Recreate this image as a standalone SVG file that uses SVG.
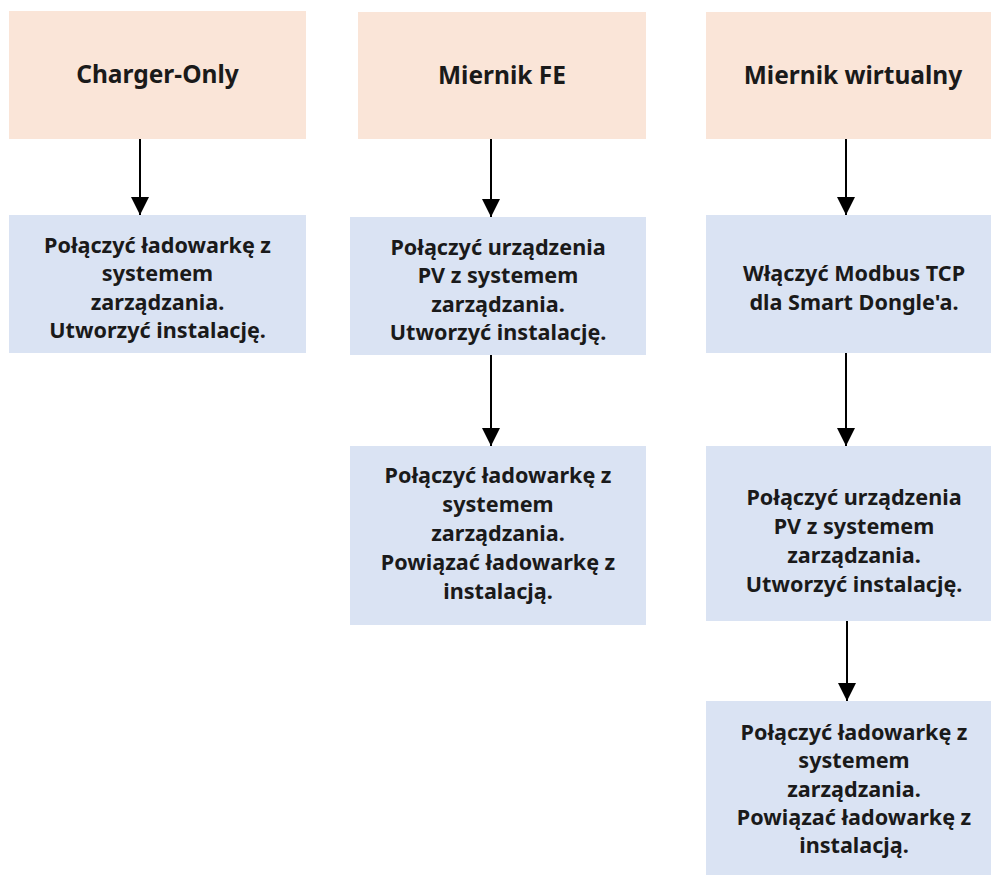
<svg xmlns="http://www.w3.org/2000/svg" width="991" height="875" viewBox="0 0 991 875">
  <defs>
    <marker id="arrow" viewBox="0 0 18 18" refX="18" refY="9" markerWidth="18" markerHeight="18" markerUnits="userSpaceOnUse" orient="auto">
      <path d="M0,0 L18,9 L0,18 Z" fill="#000"/>
    </marker>
    <style>
      .head { fill: #fae5d8; }
      .step { fill: #dae3f3; }
      text { font-family: "Noto Sans", "Open Sans", "Liberation Sans", sans-serif; font-weight: 700; fill: #1a1a1a; text-anchor: middle; }
      .ht { font-size: 24.5px; }
      .st { font-size: 21.6px; }
      .link { stroke: #000; stroke-width: 2; fill: none; marker-end: url(#arrow); }
    </style>
  </defs>
  <rect width="991" height="875" fill="#fff"/>

  <!-- column headers -->
  <g id="h-charger-only">
    <rect class="head" x="9" y="11" width="297" height="128"/>
    <text class="ht" x="157.5" y="83">Charger-Only</text>
  </g>
  <g id="h-miernik-fe">
    <rect class="head" x="358" y="12" width="288" height="127"/>
    <text class="ht" x="502" y="84">Miernik FE</text>
  </g>
  <g id="h-miernik-wirtualny">
    <rect class="head" x="706" y="12" width="296" height="127"/>
    <text class="ht" x="853" y="84">Miernik wirtualny</text>
  </g>

  <!-- column 1 -->
  <g id="s-charger-link">
    <rect class="step" x="9" y="215" width="297" height="138"/>
    <text class="st" x="157.5" y="253">Połączyć ładowarkę z</text>
    <text class="st" x="157.5" y="281">systemem</text>
    <text class="st" x="157.5" y="310">zarządzania.</text>
    <text class="st" x="157.5" y="338">Utworzyć instalację.</text>
  </g>

  <!-- column 2 -->
  <g id="s-fe-pv">
    <rect class="step" x="350" y="217" width="296" height="138"/>
    <text class="st" x="498" y="255">Połączyć urządzenia</text>
    <text class="st" x="498" y="283">PV z systemem</text>
    <text class="st" x="498" y="312">zarządzania.</text>
    <text class="st" x="498" y="340">Utworzyć instalację.</text>
  </g>
  <g id="s-fe-charger">
    <rect class="step" x="350" y="446" width="296" height="179"/>
    <text class="st" x="498" y="483">Połączyć ładowarkę z</text>
    <text class="st" x="498" y="512">systemem</text>
    <text class="st" x="498" y="541">zarządzania.</text>
    <text class="st" x="498" y="570">Powiązać ładowarkę z</text>
    <text class="st" x="498" y="599">instalacją.</text>
  </g>

  <!-- column 3 -->
  <g id="s-virt-modbus">
    <rect class="step" x="706" y="215" width="296" height="138"/>
    <text class="st" x="854" y="281">Włączyć Modbus TCP</text>
    <text class="st" x="854" y="310">dla Smart Dongle'a.</text>
  </g>
  <g id="s-virt-pv">
    <rect class="step" x="706" y="446" width="296" height="175"/>
    <text class="st" x="854" y="505">Połączyć urządzenia</text>
    <text class="st" x="854" y="534">PV z systemem</text>
    <text class="st" x="854" y="563">zarządzania.</text>
    <text class="st" x="854" y="592">Utworzyć instalację.</text>
  </g>
  <g id="s-virt-charger">
    <rect class="step" x="706" y="701" width="296" height="174"/>
    <text class="st" x="854" y="740">Połączyć ładowarkę z</text>
    <text class="st" x="854" y="768">systemem</text>
    <text class="st" x="854" y="797">zarządzania.</text>
    <text class="st" x="854" y="825">Powiązać ładowarkę z</text>
    <text class="st" x="854" y="853">instalacją.</text>
  </g>

  <!-- connectors -->
  <g id="connectors">
    <line class="link" x1="140" y1="139" x2="140" y2="215"/>
    <line class="link" x1="491" y1="139" x2="491" y2="217"/>
    <line class="link" x1="491" y1="355" x2="491" y2="446"/>
    <line class="link" x1="846" y1="139" x2="846" y2="215"/>
    <line class="link" x1="846" y1="353" x2="846" y2="446"/>
    <line class="link" x1="847" y1="621" x2="847" y2="701"/>
  </g>
</svg>
